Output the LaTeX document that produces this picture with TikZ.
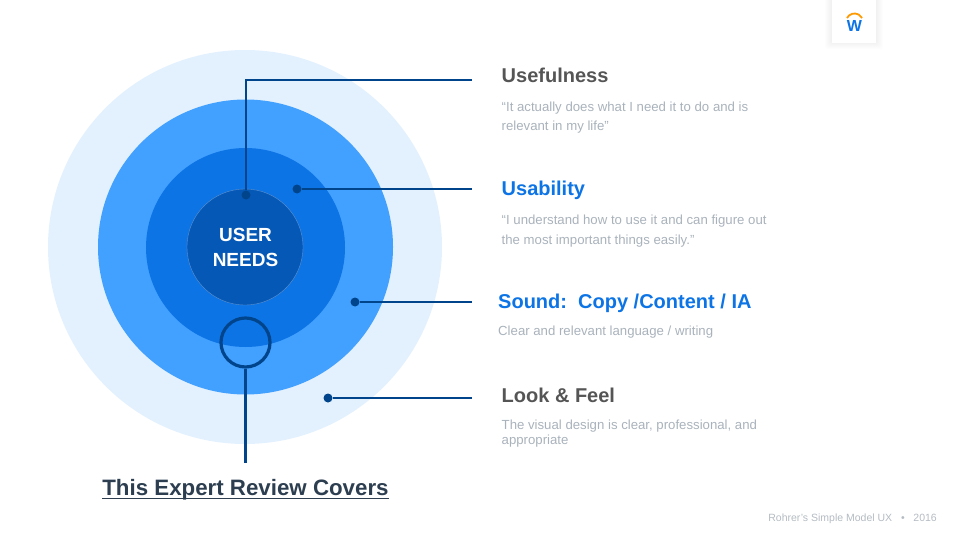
\documentclass[tikz,border=0pt]{standalone}
\usepackage{fontspec}
\setmainfont{Liberation Sans}
\definecolor{ringfeel}{HTML}{E3F1FE}
\definecolor{ringsound}{HTML}{42A0FF}
\definecolor{ringusab}{HTML}{0D74E6}
\definecolor{ringuse}{HTML}{0558B5}
\definecolor{wire}{HTML}{00458C}
\definecolor{headgray}{HTML}{555555}
\definecolor{descgray}{HTML}{A9B2BB}
\definecolor{titleink}{HTML}{2C3E50}
\definecolor{footgray}{HTML}{B4BBC2}
\tikzset{every node/.style={font=\fontsize{13.2}{19.5}\selectfont},
  ring/.style={circle,inner sep=0pt,minimum size=#1},
  wireline/.style={wire,line width=2.4pt},
  dot/.style={circle,fill=wire,inner sep=0pt,minimum size=9pt},
  headtext/.style={anchor=base west,inner sep=0pt,font=\fontsize{20}{24}\selectfont\bfseries},
  desctext/.style={anchor=base west,inner sep=0pt,align=left,text=descgray}}

\begin{document}
\begin{tikzpicture}[x=1pt,y=-1pt]
  \useasboundingbox (0,0) rectangle (960,540);
  % rings
  \node[ring=394pt,fill=ringfeel] (feel) at (245,247) {};
  \node[ring=295pt,fill=ringsound] (sound) at (245.5,247) {};
  \node[ring=199pt,fill=ringusab] (usab) at (245.5,247.5) {};
  \node[ring=116pt,fill=ringuse,draw=white!35!ringuse,line width=0.4pt] (use) at (245,247) {};
  \node[text=white,align=center,font=\fontsize{19}{25}\selectfont\bfseries] (needs) at (245.5,247) {USER\\NEEDS};
  % dots and lines
  \node[dot] (usedot) at (246,195) {};
  \node[dot] (usabdot) at (297,189) {};
  \node[dot] (sounddot) at (355,302) {};
  \node[dot] (feeldot) at (328,398) {};
  \coordinate (useend) at (472,80);
  \coordinate (usabend) at (472,189);
  \coordinate (soundend) at (472,302);
  \coordinate (feelend) at (472,398);
  \coordinate (reviewend) at (245.5,463);
  \draw[wireline] (usedot) |- (useend);
  \foreach\p in {usab, sound, feel} \draw[wireline] (\p dot) -- (\p end);
  \node[ring=49pt,draw=wire,line width=3.2pt] (lens) at (245.5,342.5) {};
  \draw[wire,line width=3.2pt] (lens.south) -- (reviewend);
  % texts
  \node[headtext,text=headgray] (usehead) at (501.5,83) {Usefulness};
  \node[desctext] (usedesc) at (501.5,131) {“It actually does what I need it to do and is\\relevant in my life”};
  \node[headtext,text=ringusab] (usabhead) at (501.5,196) {Usability};
  \node[desctext] (usabdesc) at (501.5,244) {“I understand how to use it and can figure out\\the most important things easily.”};
  \node[headtext,text=ringusab] (soundhead) at (498,308) {Sound:\ \ Copy /Content / IA};
  \node[desctext] (sounddesc) at (498,335) {Clear and relevant language / writing};
  \node[headtext,text=headgray] (feelhead) at (501.5,402) {Look \& Feel};
  \node[desctext,font=\fontsize{13.2}{15}\selectfont] (feeldesc) at (501.5,444) {The visual design is clear, professional, and\\appropriate};
  \node[anchor=base,inner sep=0pt,text=titleink,font=\fontsize{22.3}{28}\selectfont\bfseries] (review) at (245.5,495) {This Expert Review Covers};
  \draw[titleink,line width=1.6pt] ([yshift=-3.5pt]review.base west) -- ([yshift=-3.5pt]review.base east);
  \node[anchor=base east,inner sep=0pt,text=footgray,font=\fontsize{10.5}{13}\selectfont] (foot) at (937,521) {Rohrer's Simple Model UX \ \ •\ \ \ 2016};
  % logo
  \foreach\s in {1,2,...,7} \fill[black,opacity=0.007,rounded corners=3pt] (832-\s,-8) rectangle (876+\s,42+\s);
  \node[fill=white,minimum width=44pt,minimum height=43pt,inner sep=0pt] (card) at (854,21.5) {};
  \node[text=ringusab,inner sep=0pt,font=\fontsize{16}{16}\selectfont\bfseries] (logo) at (854.5,25.5) {W};
  \draw[orange!80!yellow,line width=1.8pt] (847,18) arc[start angle=152,end angle=28,radius=8.5pt];
\end{tikzpicture}
\end{document}
